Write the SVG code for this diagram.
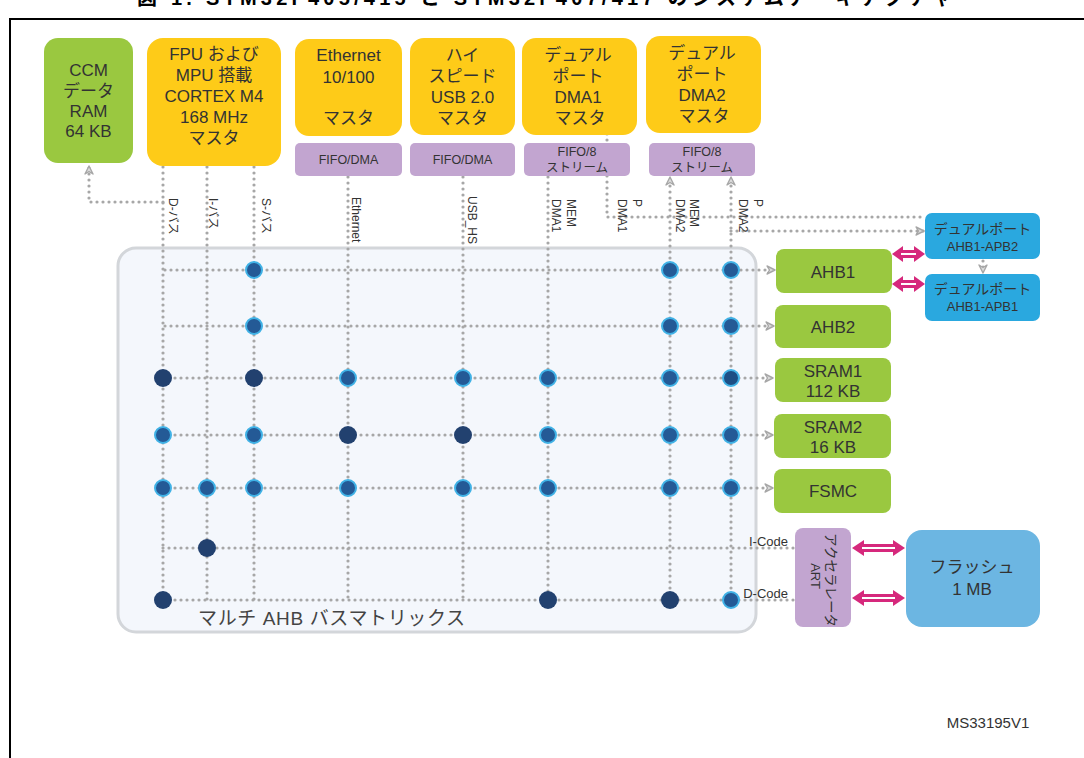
<svg xmlns="http://www.w3.org/2000/svg" width="1084" height="758" viewBox="0 0 1084 758">
<defs>
<style>
text{font-family:"Liberation Sans","Noto Sans CJK JP",sans-serif;fill:#333}
.t17{font-size:17px;text-anchor:middle}
.t14{font-size:14px;text-anchor:middle}
.t13{font-size:13px;text-anchor:middle}
.t12{font-size:12.5px;text-anchor:middle}
.v{font-size:12px}
.dl{fill:none;stroke:#a7a7a7;stroke-width:3.2;stroke-linecap:round;stroke-dasharray:0 6}
.ring{fill:#245a96;stroke:#40b2e6;stroke-width:2}
.dark{fill:#22416f}
.green{fill:#9ac840}
.yellow{fill:#fecb18}
.purple{fill:#c2a5d0}
.blue{fill:#2aa8df}
.mag{fill:#d6287c}
.magin{stroke:#fff;stroke-width:2}
</style>
<marker id="ah" viewBox="0 0 10 10" refX="9" refY="5" markerWidth="10" markerHeight="10" markerUnits="userSpaceOnUse" orient="auto">
<path d="M1,1 L9,5 L1,9 L3.5,5 Z" fill="#dcdcdc" stroke="#a7a7a7" stroke-width="1.4" stroke-linejoin="round"/>
</marker>
</defs>

<text x="137" y="5" style="font-size:20px;font-weight:bold;fill:#000" textLength="815" lengthAdjust="spacing">図 1. STM32F405/415 と STM32F407/417 のシステムアーキテクチャ</text>
<rect x="10" y="19" width="1090" height="760" fill="none" stroke="#000" stroke-width="2"/>

<g id="matrix">
<rect x="118" y="248" width="638" height="384" rx="18" fill="#f4f7fc" stroke="#d3d6da" stroke-width="3"/>
<text x="198" y="625" style="font-size:19px;fill:#444" textLength="267" lengthAdjust="spacing">マルチ AHB バスマトリックス</text>
</g>

<g id="connectors">
<path class="dl" d="M163,167 V600"/>
<path class="dl" d="M207,167 V600"/>
<path class="dl" d="M254,167 V600"/>
<path class="dl" d="M348,177 V600"/>
<path class="dl" d="M463,177 V600"/>
<path class="dl" d="M548,177 V600"/>
<path class="dl" d="M670,600 V177" marker-end="url(#ah)"/>
<path class="dl" d="M731,600 V177" marker-end="url(#ah)"/>
<path class="dl" d="M607,128 V217 H926"/>
<path class="dl" d="M731,231 H924" marker-end="url(#ah)"/>
<path class="dl" d="M163,202 H89 V166" marker-end="url(#ah)"/>
<path class="dl" d="M983,261 V273" marker-end="url(#ah)"/>
<path class="dl" d="M165,270 H775" marker-end="url(#ah)"/>
<path class="dl" d="M165,326 H774" marker-end="url(#ah)"/>
<path class="dl" d="M163,378 H773" marker-end="url(#ah)"/>
<path class="dl" d="M163,435 H773" marker-end="url(#ah)"/>
<path class="dl" d="M163,488 H773" marker-end="url(#ah)"/>
<path class="dl" d="M163,548 H795"/>
<path class="dl" d="M163,600 H795"/>

<path class="mag" d="M892,254 L903,246 L903,250 L914,250 L914,246 L925,254 L914,262 L914,258 L903,258 L903,262 Z"/>
<path class="magin" d="M901,254 H916"/>
<path class="mag" d="M892,284 L903,276 L903,280 L914,280 L914,276 L925,284 L914,292 L914,288 L903,288 L903,292 Z"/>
<path class="magin" d="M901,284 H916"/>
<path class="mag" d="M852,548 L864,540 L864,544 L893,544 L893,540 L905,548 L893,556 L893,552 L864,552 L864,556 Z"/>
<path class="magin" d="M862,548 H895"/>
<path class="mag" d="M852,598 L864,590 L864,594 L893,594 L893,590 L905,598 L893,606 L893,602 L864,602 L864,606 Z"/>
<path class="magin" d="M862,598 H895"/>

<g id="labels">
<text class="v" transform="translate(169,198) rotate(90)">D-バス</text>
<text class="v" transform="translate(209,198) rotate(90)">I-バス</text>
<text class="v" transform="translate(262,198) rotate(90)">S-バス</text>
<text class="v" transform="translate(352,197) rotate(90)">Ethernet</text>
<text class="v" transform="translate(468,196) rotate(90)">USB_HS</text>
<text class="v" transform="translate(567,199) rotate(90)">MEM</text>
<text class="v" transform="translate(552,199) rotate(90)">DMA1</text>
<text class="v" transform="translate(633,199) rotate(90)">P</text>
<text class="v" transform="translate(618,199) rotate(90)">DMA1</text>
<text class="v" transform="translate(690,199) rotate(90)">MEM</text>
<text class="v" transform="translate(676,199) rotate(90)">DMA2</text>
<text class="v" transform="translate(754,199) rotate(90)">P</text>
<text class="v" transform="translate(739,199) rotate(90)">DMA2</text>
<text x="788" y="546" style="font-size:13px;text-anchor:end">I-Code</text>
<text x="788" y="598" style="font-size:13px;text-anchor:end">D-Code</text>
</g>
</g>

<g id="dots">
<circle class="ring" cx="254" cy="270" r="8"/>
<circle class="ring" cx="670" cy="270" r="8"/>
<circle class="ring" cx="731" cy="270" r="8"/>
<circle class="ring" cx="254" cy="326" r="8"/>
<circle class="ring" cx="670" cy="326" r="8"/>
<circle class="ring" cx="731" cy="326" r="8"/>
<circle class="dark" cx="163" cy="378" r="9"/>
<circle class="dark" cx="254" cy="378" r="9"/>
<circle class="ring" cx="348" cy="378" r="8"/>
<circle class="ring" cx="463" cy="378" r="8"/>
<circle class="ring" cx="548" cy="378" r="8"/>
<circle class="ring" cx="670" cy="378" r="8"/>
<circle class="ring" cx="731" cy="378" r="8" style="fill:#1d4f85"/>
<circle class="ring" cx="163" cy="435" r="8"/>
<circle class="ring" cx="254" cy="435" r="8"/>
<circle class="dark" cx="348" cy="435" r="9"/>
<circle class="dark" cx="463" cy="435" r="9"/>
<circle class="ring" cx="548" cy="435" r="8"/>
<circle class="ring" cx="670" cy="435" r="8"/>
<circle class="ring" cx="731" cy="435" r="8"/>
<circle class="ring" cx="163" cy="488" r="8"/>
<circle class="ring" cx="207" cy="488" r="8"/>
<circle class="ring" cx="254" cy="488" r="8"/>
<circle class="ring" cx="348" cy="488" r="8"/>
<circle class="ring" cx="463" cy="488" r="8"/>
<circle class="ring" cx="548" cy="488" r="8"/>
<circle class="ring" cx="670" cy="488" r="8"/>
<circle class="ring" cx="731" cy="488" r="8"/>
<circle class="dark" cx="207" cy="548" r="9"/>
<circle class="dark" cx="163" cy="600" r="9"/>
<circle class="dark" cx="548" cy="600" r="9"/>
<circle class="dark" cx="670" cy="600" r="9"/>
<circle class="ring" cx="731" cy="600" r="8"/>
</g>

<g id="ccm">
<rect class="green" x="44" y="38" width="89" height="125" rx="14"/>
<text class="t17" x="88.5" y="76">CCM</text>
<text class="t17" x="88.5" y="97">データ</text>
<text class="t17" x="88.5" y="117">RAM</text>
<text class="t17" x="88.5" y="137">64 KB</text>
</g>
<g id="cpu">
<rect class="yellow" x="147" y="38" width="134" height="128" rx="16"/>
<text class="t17" x="214" y="60">FPU および</text>
<text class="t17" x="214" y="81">MPU 搭載</text>
<text class="t17" x="214" y="102">CORTEX M4</text>
<text class="t17" x="214" y="123">168 MHz</text>
<text class="t17" x="214" y="144">マスタ</text>
</g>
<g id="eth">
<rect class="yellow" x="295" y="39" width="107" height="97" rx="14"/>
<text class="t17" x="348.5" y="61">Ethernet</text>
<text class="t17" x="348.5" y="83">10/100</text>
<text class="t17" x="348.5" y="124">マスタ</text>
</g>
<g id="eth-fifo">
<rect class="purple" x="295" y="143" width="107" height="33" rx="5"/>
<text class="t12" x="348.5" y="164">FIFO/DMA</text>
</g>
<g id="usb">
<rect class="yellow" x="410" y="38" width="105" height="97" rx="14"/>
<text class="t17" x="462.5" y="61">ハイ</text>
<text class="t17" x="462.5" y="82">スピード</text>
<text class="t17" x="462.5" y="103">USB 2.0</text>
<text class="t17" x="462.5" y="124">マスタ</text>
</g>
<g id="usb-fifo">
<rect class="purple" x="410" y="143" width="105" height="33" rx="5"/>
<text class="t12" x="462.5" y="164">FIFO/DMA</text>
</g>
<g id="dma1">
<rect class="yellow" x="522" y="38" width="115" height="97" rx="14"/>
<text class="t17" x="578" y="61">デュアル</text>
<text class="t17" x="578" y="82">ポート</text>
<text class="t17" x="578" y="103">DMA1</text>
<text class="t17" x="580" y="124">マスタ</text>
</g>
<g id="dma1-fifo">
<rect class="purple" x="524" y="143" width="106" height="33" rx="5"/>
<text class="t12" x="577" y="156">FIFO/8</text>
<text class="t12" x="577" y="171.5">ストリーム</text>
</g>
<g id="dma2">
<rect class="yellow" x="646" y="36" width="115" height="97" rx="14"/>
<text class="t17" x="702" y="59">デュアル</text>
<text class="t17" x="702" y="80">ポート</text>
<text class="t17" x="702" y="101">DMA2</text>
<text class="t17" x="704" y="122">マスタ</text>
</g>
<g id="dma2-fifo">
<rect class="purple" x="649" y="143" width="106" height="33" rx="5"/>
<text class="t12" x="702" y="156">FIFO/8</text>
<text class="t12" x="702" y="171.5">ストリーム</text>
</g>

<g id="ahb1">
<rect class="green" x="776" y="249" width="116" height="44" rx="8"/>
<text class="t17" x="833" y="278">AHB1</text>
</g>
<g id="ahb2">
<rect class="green" x="775" y="305" width="116" height="43" rx="8"/>
<text class="t17" x="833" y="333">AHB2</text>
</g>
<g id="sram1">
<rect class="green" x="775" y="358" width="116" height="44" rx="8"/>
<text class="t17" x="833" y="377">SRAM1</text>
<text class="t17" x="833" y="397">112 KB</text>
</g>
<g id="sram2">
<rect class="green" x="774" y="414" width="117" height="44" rx="8"/>
<text class="t17" x="833" y="433">SRAM2</text>
<text class="t17" x="833" y="453">16 KB</text>
</g>
<g id="fsmc">
<rect class="green" x="774" y="469" width="117" height="44" rx="8"/>
<text class="t17" x="833" y="497">FSMC</text>
</g>
<g id="apb2">
<rect class="blue" x="925" y="213" width="115" height="46" rx="7"/>
<text class="t14" x="982.5" y="234">デュアルポート</text>
<text class="t13" x="982.5" y="251">AHB1-APB2</text>
</g>
<g id="apb1">
<rect class="blue" x="925" y="274" width="115" height="47" rx="7"/>
<text class="t14" x="982.5" y="294">デュアルポート</text>
<text class="t13" x="982.5" y="311">AHB1-APB1</text>
</g>
<g id="art">
<rect class="purple" x="795" y="528" width="56" height="99" rx="8"/>
<text transform="translate(826,580) rotate(90)" style="font-size:13.5px;text-anchor:middle">アクセラレータ</text>
<text transform="translate(811,576) rotate(90)" style="font-size:13px;text-anchor:middle">ART</text>
</g>
<g id="flash">
<rect x="906" y="530" width="134" height="97" rx="16" fill="#6cb6e2"/>
<text class="t17" x="972" y="573">フラッシュ</text>
<text class="t17" x="972" y="595">1 MB</text>
</g>
<text x="988" y="728" style="font-size:15px;text-anchor:middle">MS33195V1</text>
</svg>
